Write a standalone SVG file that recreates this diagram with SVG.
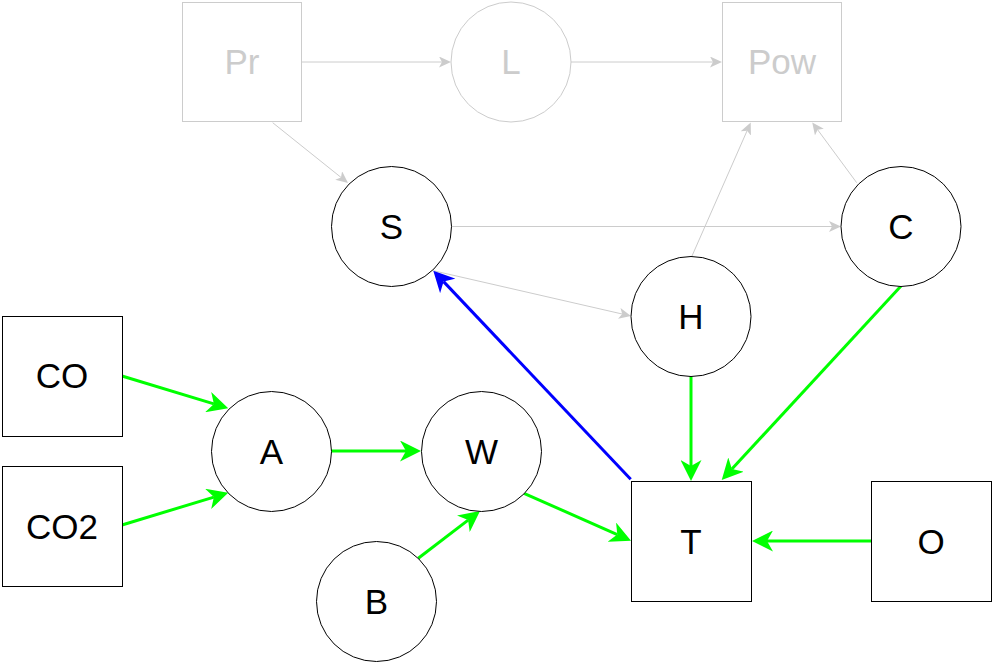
<svg xmlns="http://www.w3.org/2000/svg" width="993" height="666" viewBox="0 0 993 666">
<style>
.n{fill:#fff;stroke:#000;stroke-width:1}
.g{fill:#fff;stroke:#ccc;stroke-width:1}
.t{font-family:"Liberation Sans",Arial,sans-serif;font-size:35px;text-anchor:middle;fill:#000}
.tg{fill:#ccc}
.eg{stroke:#ccc;stroke-width:1;fill:none;marker-end:url(#ag)}
.egr{stroke:#00ff00;stroke-width:3;fill:none;marker-end:url(#agr)}
.eb{stroke:#0000ff;stroke-width:3;fill:none;marker-end:url(#ab)}
</style>
<defs>
<marker id="ag" viewBox="0 -5.5 12 11" refX="3" refY="0" markerWidth="12" markerHeight="11" markerUnits="userSpaceOnUse" orient="auto"><path d="M0,-5.5 L12,0 L0,5.5 L3,0 Z" fill="#ccc"/></marker>
<marker id="agr" viewBox="0 -10.5 21 21" refX="6" refY="0" markerWidth="21" markerHeight="21" markerUnits="userSpaceOnUse" orient="auto"><path d="M0,-10.5 L21,0 L0,10.5 L6,0 Z" fill="#00ff00"/></marker>
<marker id="ab" viewBox="0 -10.5 21 21" refX="6" refY="0" markerWidth="21" markerHeight="21" markerUnits="userSpaceOnUse" orient="auto"><path d="M0,-10.5 L21,0 L0,10.5 L6,0 Z" fill="#0000ff"/></marker>
</defs>
<g id="edges">
<line class="eg" x1="302" y1="62" x2="442" y2="62"/>
<line class="eg" x1="571" y1="62" x2="713" y2="62"/>
<line class="eg" x1="272.7" y1="122.7" x2="341" y2="177.4"/>
<line class="eg" x1="451" y1="226.5" x2="832" y2="226.5"/>
<line class="eg" x1="433.3" y1="270.7" x2="622.2" y2="314"/>
<line class="eg" x1="691.7" y1="256.7" x2="747.1" y2="130.7"/>
<line class="eg" x1="856.7" y1="182.7" x2="817.6" y2="129.7"/>
<line class="egr" x1="122" y1="376" x2="213.9" y2="403.9"/>
<line class="egr" x1="122" y1="525" x2="213.9" y2="497.1"/>
<line class="egr" x1="331" y1="451" x2="406" y2="451"/>
<line class="egr" x1="418.3" y1="558.3" x2="468.1" y2="520.1"/>
<line class="egr" x1="524" y1="493.3" x2="617.3" y2="534.6"/>
<line class="egr" x1="691" y1="376" x2="691" y2="466"/>
<line class="egr" x1="901" y1="286" x2="731.9" y2="469"/>
<line class="egr" x1="871" y1="541" x2="767" y2="541"/>
<line class="eb" x1="630.7" y1="479.3" x2="443.6" y2="281.6"/>
</g>
<g id="Pr"><rect class="g" x="182.5" y="2.5" width="119" height="119"/><text class="t tg" x="242" y="74">Pr</text></g>
<g id="L"><circle class="g" cx="511" cy="62" r="60"/><text class="t tg" x="511" y="74">L</text></g>
<g id="Pow"><rect class="g" x="722.5" y="2.5" width="119" height="119"/><text class="t tg" x="782" y="74">Pow</text></g>
<g id="S"><circle class="n" cx="391.5" cy="226.5" r="60"/><text class="t" x="391.5" y="238.5">S</text></g>
<g id="C"><circle class="n" cx="901" cy="226.5" r="60"/><text class="t" x="901" y="238.5">C</text></g>
<g id="H"><circle class="n" cx="691" cy="316.5" r="60"/><text class="t" x="691" y="328.5">H</text></g>
<g id="CO"><rect class="n" x="2.5" y="316.5" width="120" height="120"/><text class="t" x="62" y="388">CO</text></g>
<g id="CO2"><rect class="n" x="2.5" y="466.5" width="120" height="120"/><text class="t" x="62" y="538.5">CO2</text></g>
<g id="A"><circle class="n" cx="271.5" cy="451.5" r="60"/><text class="t" x="271.5" y="463.5">A</text></g>
<g id="W"><circle class="n" cx="481.5" cy="451.5" r="60"/><text class="t" x="481.5" y="463.5">W</text></g>
<g id="B"><circle class="n" cx="376.5" cy="601.5" r="60"/><text class="t" x="376.5" y="613.5">B</text></g>
<g id="T"><rect class="n" x="631.5" y="481.5" width="120" height="120"/><text class="t" x="691" y="553.5">T</text></g>
<g id="O"><rect class="n" x="871.5" y="481.5" width="120" height="120"/><text class="t" x="931" y="553.5">O</text></g>
</svg>
